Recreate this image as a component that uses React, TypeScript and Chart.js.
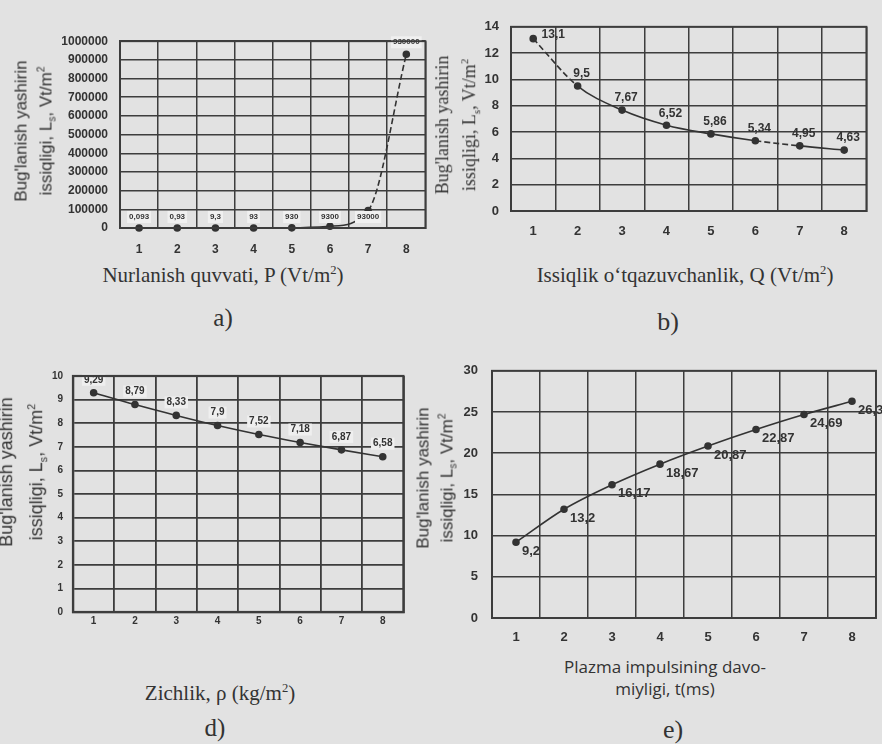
import React, { useEffect, useRef } from 'react';
import { Chart, registerables } from 'chart.js';
Chart.register(...registerables);

// ---------- data ----------
const categories = ['1', '2', '3', '4', '5', '6', '7', '8'];

// a) Nurlanish quvvati
const powerValues = [0.093, 0.93, 9.3, 93, 930, 9300, 93000, 930000];
const powerLabels = ['0,093', '0,93', '9,3', '93', '930', '9300', '93000', '930000'];

// b) Issiqlik o'tqazuvchanlik
const condValues = [13.1, 9.5, 7.67, 6.52, 5.86, 5.34, 4.95, 4.63];
const condLabels = ['13,1', '9,5', '7,67', '6,52', '5,86', '5,34', '4,95', '4,63'];

// d) Zichlik
const densValues = [9.29, 8.79, 8.33, 7.9, 7.52, 7.18, 6.87, 6.58];
const densLabels = ['9,29', '8,79', '8,33', '7,9', '7,52', '7,18', '6,87', '6,58'];

// e) Plazma impulsining davomiyligi
const pulseValues = [9.2, 13.2, 16.17, 18.67, 20.87, 22.87, 24.69, 26.3];
const pulseLabels = ['9,2', '13,2', '16,17', '18,67', '20,87', '22,87', '24,69', '26,3'];

// ---------- styling ----------
const INK = '#333333';
const GRID = '#3d3d3d';
const BG = '#e2e2e2';
const SANS = "'Liberation Sans', Arial, sans-serif";
const SERIF = "'Liberation Serif', 'Times New Roman', serif";

type Place = (x: number, y: number, area: any, i: number) => [number, number];

function labelPlugin(texts: string[], font: string, align: CanvasTextAlign, place: Place, bg?: string) {
  return {
    id: 'ptLabels',
    afterDatasetsDraw(chart: any) {
      const meta = chart.getDatasetMeta(0);
      const ctx: CanvasRenderingContext2D = chart.ctx;
      ctx.save();
      ctx.font = font;
      ctx.textAlign = align;
      ctx.textBaseline = 'middle';
      meta.data.forEach((pt: any, i: number) => {
        const [x, y] = place(pt.x, pt.y, chart.chartArea, i);
        const t = texts[i];
        if (bg) {
          const w = ctx.measureText(t).width;
          const x0 = align === 'center' ? x - w / 2 : align === 'left' ? x : x - w;
          ctx.fillStyle = bg;
          ctx.fillRect(x0 - 2, y - 6, w + 4, 12);
        }
        ctx.fillStyle = INK;
        ctx.fillText(t, x, y);
      });
      ctx.restore();
    },
  };
}

interface PanelProps {
  left: number; top: number; width: number; height: number;
  yWidth: number; xHeight: number; padTop: number; padRight: number;
  values: number[]; yMin: number; yMax: number; yStep: number;
  tickFont: number; xPad: number; yPad: number; gridWidth: number;
  plugin: any; dashSegs?: number[]; tension?: number; pointRadius?: number;
}

function Panel(p: PanelProps) {
  const ref = useRef<HTMLCanvasElement>(null);
  useEffect(() => {
    const chart = new Chart(ref.current!, {
      type: 'line',
      data: {
        labels: categories,
        datasets: [{
          data: p.values,
          borderColor: INK,
          borderWidth: 1.6,
          pointRadius: p.pointRadius ?? 3,
          pointBackgroundColor: INK,
          pointBorderColor: INK,
          tension: p.tension ?? 0,
          cubicInterpolationMode: 'monotone',
          clip: false as any,
          segment: {
            borderDash: (ctx: any) => (p.dashSegs && p.dashSegs.includes(ctx.p0DataIndex) ? [6, 3] : undefined),
          },
        }],
      },
      options: {
        animation: false,
        responsive: false,
        maintainAspectRatio: false,
        events: [],
        layout: { padding: { top: p.padTop, right: p.padRight, left: 0, bottom: 0 } },
        plugins: { legend: { display: false }, tooltip: { enabled: false } },
        scales: {
          x: {
            type: 'category',
            offset: true,
            grid: { offset: true, color: GRID, lineWidth: p.gridWidth, drawTicks: false },
            border: { color: GRID, width: p.gridWidth + 0.4 },
            ticks: { color: INK, font: { family: SANS, size: p.tickFont, weight: 'bold' }, padding: p.xPad },
            afterFit: (axis: any) => { axis.height = p.xHeight; },
          },
          y: {
            min: p.yMin, max: p.yMax,
            grid: { color: GRID, lineWidth: p.gridWidth, drawTicks: false },
            border: { color: GRID, width: p.gridWidth + 0.4 },
            ticks: {
              stepSize: p.yStep, color: INK, padding: p.yPad,
              font: { family: SANS, size: p.tickFont, weight: 'bold' },
              callback: (v: any) => String(v),
            },
            afterFit: (axis: any) => { axis.width = p.yWidth; },
          },
        },
      },
      plugins: [p.plugin, {
        id: 'rightBorder',
        afterDraw(c: any) {
          const a = c.chartArea; const ctx = c.ctx;
          ctx.save(); ctx.strokeStyle = GRID; ctx.lineWidth = p.gridWidth + 0.4;
          ctx.strokeRect(a.left, a.top, a.right - a.left, a.bottom - a.top);
          ctx.restore();
        },
      }],
    } as any);
    return () => chart.destroy();
  }, []);
  return (
    <canvas ref={ref} width={p.width} height={p.height}
      style={{ position: 'absolute', left: p.left, top: p.top, width: p.width, height: p.height }} />
  );
}

function VTitle({ cx, cy, font, lh, children }: any) {
  return (
    <div style={{
      position: 'absolute', left: cx, top: cy, transform: 'translate(-50%, -50%) rotate(-90deg)',
      whiteSpace: 'nowrap', textAlign: 'center', font, lineHeight: lh + 'px', color: INK,
    }}>{children}</div>
  );
}

function Text({ cx, cy, font, lh, children }: any) {
  return (
    <div style={{
      position: 'absolute', left: cx, top: cy, transform: 'translate(-50%, -50%)',
      whiteSpace: 'nowrap', textAlign: 'center', font, lineHeight: (lh || 22) + 'px', color: INK,
    }}>{children}</div>
  );
}

const YT = (
  <>Bug'lanish yashirin<br />issiqligi, L<sub style={{ fontSize: '0.6em' }}>s</sub>, Vt/m<sup style={{ fontSize: '0.6em' }}>2</sup></>
);

export default function App() {
  const plugA = labelPlugin(powerLabels, `bold 8px ${SANS}`, 'center',
    (x, y, a) => (y > a.bottom - 30 ? [x, a.bottom - 11] : [x, y - 12]), '#f0f0f0');
  const plugB = labelPlugin(condLabels, `bold 12px ${SANS}`, 'center',
    (x, y, a, i) => (i === 0 ? [x + 20, y - 4] : [x + 4, y - 12]));
  const plugD = labelPlugin(densLabels, `bold 10px ${SANS}`, 'center',
    (x, y) => [x, y - 13], '#efefef');
  const plugE = labelPlugin(pulseLabels, `bold 13px ${SANS}`, 'left',
    (x, y) => [x + 6, y + 9]);

  return (
    <div style={{ position: 'absolute', left: 0, top: 0, width: 882, height: 744, background: BG, overflow: 'hidden' }}>
      {/* a) */}
      <Panel left={60} top={22} width={371} height={236} yWidth={60} xHeight={30} padTop={10} padRight={4}
        values={powerValues} yMin={0} yMax={1000000} yStep={100000} tickFont={12} xPad={14} yPad={12}
        gridWidth={1.5} plugin={plugA} dashSegs={[6]} tension={0.3} />
      <VTitle cx={37} cy={131} font={`17px ${SANS}`} lh={20}>{YT}</VTitle>
      <Text cx={223} cy={272} font={`21px ${SERIF}`}>Nurlanish quvvati, P (Vt/m<sup style={{ fontSize: '0.6em' }}>2</sup>)</Text>
      <Text cx={223} cy={318} font={`25px ${SERIF}`}>a)</Text>

      {/* b) */}
      <Panel left={467} top={7} width={405} height={234} yWidth={44} xHeight={30} padTop={10} padRight={4}
        values={condValues} yMin={0} yMax={14} yStep={2} tickFont={13} xPad={13} yPad={12}
        gridWidth={1.5} plugin={plugB} dashSegs={[0, 5]} />
      <VTitle cx={459} cy={125} font={`18px ${SERIF}`} lh={22}>{YT}</VTitle>
      <Text cx={685} cy={272} font={`21px ${SERIF}`}>Issiqlik o‘tqazuvchanlik, Q (Vt/m<sup style={{ fontSize: '0.6em' }}>2</sup>)</Text>
      <Text cx={668} cy={322} font={`26px ${SERIF}`}>b)</Text>

      {/* d) */}
      <Panel left={43} top={360} width={366} height={272} yWidth={30} xHeight={20} padTop={10} padRight={4}
        values={densValues} yMin={0} yMax={10} yStep={1} tickFont={10} xPad={3} yPad={10}
        gridWidth={1.8} plugin={plugD} />
      <VTitle cx={25} cy={472} font={`18px ${SANS}`} lh={25}>{YT}</VTitle>
      <Text cx={220} cy={690} font={`21px ${SERIF}`}>Zichlik, ρ (kg/m<sup style={{ fontSize: '0.6em' }}>2</sup>)</Text>
      <Text cx={215} cy={728} font={`25px ${SERIF}`}>d)</Text>

      {/* e) */}
      <Panel left={452} top={349} width={430} height={299} yWidth={40} xHeight={30} padTop={10} padRight={6}
        values={pulseValues} yMin={0} yMax={30} yStep={5} tickFont={13} xPad={12} yPad={14}
        gridWidth={1.5} plugin={plugE} />
      <VTitle cx={438} cy={478} font={`17px ${SANS}`} lh={19}>{YT}</VTitle>
      <Text cx={665} cy={678} font={`17px 'Open Sans', ${SANS}`} lh={22}>Plazma impulsining davo-<br />miyligi, t(ms)</Text>
      <Text cx={673} cy={730} font={`26px ${SERIF}`}>e)</Text>
    </div>
  );
}
